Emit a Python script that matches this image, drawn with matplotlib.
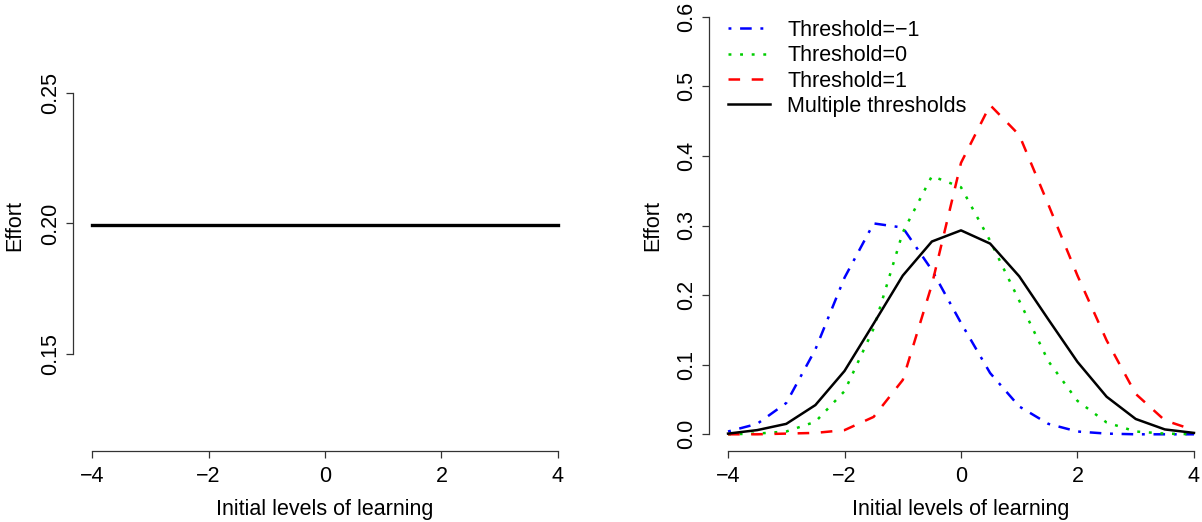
import numpy as np
import matplotlib.pyplot as plt
from matplotlib.ticker import FormatStrFormatter

plt.rcParams['font.family'] = ['Liberation Sans', 'DejaVu Sans']
plt.rcParams['font.size'] = 15.5

# grid of initial learning levels
learning = [-4, -3.5, -3, -2.5, -2, -1.5, -1, -0.5, 0, 0.5, 1, 1.5, 2, 2.5, 3, 3.5, 4]

# left panel: constant effort
effort_flat = [0.1993] * 17

# right panel curves
effort_thr_m1 = [0.004, 0.015, 0.045, 0.122, 0.225, 0.303, 0.297, 0.236, 0.160, 0.088,
                 0.040, 0.015, 0.004, 0.001, 0.0, 0.0, 0.0]
effort_thr_0 = [0.0, 0.001, 0.004, 0.018, 0.062, 0.152, 0.290, 0.371, 0.355, 0.278,
                0.192, 0.105, 0.048, 0.017, 0.004, 0.001, 0.0]
effort_thr_1 = [0.0, 0.0, 0.001, 0.002, 0.006, 0.025, 0.078, 0.215, 0.390, 0.473,
                0.430, 0.330, 0.228, 0.135, 0.058, 0.020, 0.006]
effort_multi = [0.001, 0.006, 0.015, 0.042, 0.091, 0.159, 0.228, 0.277, 0.293, 0.274,
                0.227, 0.165, 0.104, 0.054, 0.022, 0.007, 0.002]

W, H = 1202, 522
fig = plt.figure(figsize=(W / 100, H / 100), dpi=100)
ax1 = fig.add_axes([73.4 / W, 71 / H, 503.2 / W, 451 / H])
ax2 = fig.add_axes([709.4 / W, 71 / H, 503.2 / W, 451 / H])

axcol = '#333333'


def r_style(ax, ybounds, fmt):
    # base-R look: no box, axes only span the tick range
    for s in ['top', 'right']:
        ax.spines[s].set_visible(False)
    for s in ['left', 'bottom']:
        ax.spines[s].set_color(axcol)
        ax.spines[s].set_linewidth(0.9)
    ax.spines['bottom'].set_bounds(-4, 4)
    ax.spines['left'].set_bounds(*ybounds)
    ax.set_xlim(-4.32, 4.32)
    ax.set_xticks([-4, -2, 0, 2, 4])
    ax.yaxis.set_major_formatter(FormatStrFormatter(fmt))
    ax.tick_params(direction='out', length=5, width=0.9, color=axcol, pad=4)
    ax.tick_params(axis='x', pad=6)
    for lab in ax.get_yticklabels():
        lab.set_rotation(90)
        lab.set_va('center')
    ax.set_xlabel('Initial levels of learning', va='center')
    ax.set_ylabel('Effort', va='center')
    ax.xaxis.set_label_coords(0.5, -59 / 451)


# left panel
ax1.plot(learning, effort_flat, color='black', lw=2.4)
ax1.set_ylim(0.1129, 0.2855)
ax1.set_yticks([0.15, 0.20, 0.25])
r_style(ax1, (0.15, 0.25), '%.2f')
ax1.yaxis.set_label_coords((15 - 73.4) / 503.2, 0.5)

# right panel
u = 1.16
ax2.plot(learning, effort_thr_m1, color='#0000FF', lw=1.8,
         dashes=(u, 3 * u, 4 * u, 3 * u), label='Threshold=\u22121')
ax2.plot(learning, effort_thr_0, color='#00CD00', lw=1.8,
         dashes=(u, 3 * u), label='Threshold=0')
ax2.plot(learning, effort_thr_1, color='#FF0000', lw=1.8,
         dashes=(4 * u, 4 * u), label='Threshold=1')
ax2.plot(learning, effort_multi, color='black', lw=1.8, label='Multiple thresholds')
ax2.set_ylim(-0.024, 0.624)
ax2.set_yticks([0.0, 0.1, 0.2, 0.3, 0.4, 0.5, 0.6])
r_style(ax2, (0, 0.6), '%.1f')
ax2.yaxis.set_label_coords((653 - 709.4) / 503.2, 0.5)

ax2.legend(loc='upper left', bbox_to_anchor=(728 / W, 1 - 20 / H),
           bbox_transform=fig.transFigure, frameon=False, borderpad=0,
           borderaxespad=0, handlelength=42 / 21.5, handletextpad=17 / 21.5,
           labelspacing=0.2, fontsize=15.5)

fig.savefig('out.png', dpi=100)
